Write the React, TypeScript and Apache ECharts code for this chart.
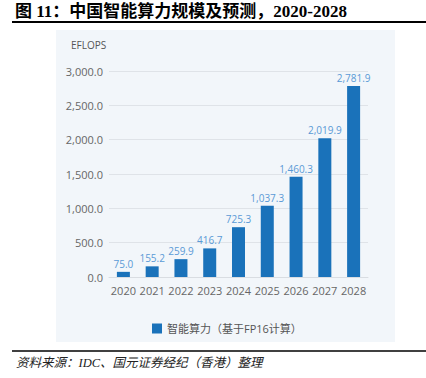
import React, { useEffect, useRef } from "react";
import * as echarts from "echarts";

const years = ["2020", "2021", "2022", "2023", "2024", "2025", "2026", "2027", "2028"];
const computeValues = [75.0, 155.2, 259.9, 416.7, 725.3, 1037.3, 1460.3, 2019.9, 2781.9];
const seriesName = "智能算力（基于FP16计算）";
const titleText = "图 11：中国智能算力规模及预测，2020-2028";
const sourceText = "资料来源：IDC、国元证券经纪（香港）整理";
const unitText = "EFLOPS";

const fmt = (v: number) =>
  v.toLocaleString("en-US", { minimumFractionDigits: 1, maximumFractionDigits: 1 });

export default function App() {
  const ref = useRef<HTMLDivElement>(null);
  useEffect(() => {
    if (!ref.current) return;
    const chart = echarts.init(ref.current, undefined, { renderer: "svg" });
    const sans = "'Open Sans', 'Noto Sans CJK SC', sans-serif";
    chart.setOption({
      animation: false,
      backgroundColor: "#ffffff",
      grid: { left: 109, right: 58, top: 71, bottom: 101 },
      graphic: [
        { type: "rect", z: -10, shape: { x: 56, y: 30, width: 339, height: 312 }, style: { fill: "#f2f6fa" } },
        { type: "line", shape: { x1: 12, y1: 22, x2: 426, y2: 22 }, style: { stroke: "#000", lineWidth: 2 } },
        { type: "line", shape: { x1: 12, y1: 351, x2: 426, y2: 351 }, style: { stroke: "#000", lineWidth: 1.5 } },
        {
          type: "text", x: 15, y: 3,
          style: { text: titleText, fontSize: 17, fontWeight: "bold", fill: "#000", fontFamily: "'Liberation Serif', 'Noto Sans CJK SC', serif" },
        },
        {
          type: "text", x: 16, y: 357,
          style: { text: sourceText, fontSize: 12.5, fontStyle: "italic", fill: "#222", fontFamily: "'Liberation Serif', 'Noto Sans CJK SC', serif" },
        },
        {
          type: "text", x: 71, y: 40,
          style: { text: unitText, fontSize: 10, fill: "#555", fontFamily: sans },
        },
      ],
      legend: {
        left: 147, top: 318, icon: "rect", itemWidth: 10, itemHeight: 10, itemGap: 3,
        textStyle: { fontSize: 11, color: "#555", fontFamily: sans },
        data: [seriesName],
      },
      xAxis: {
        type: "category", data: years,
        axisLine: { show: true, lineStyle: { color: "#d9dde2" } },
        axisTick: { show: false },
        axisLabel: { color: "#666", fontSize: 11, fontFamily: sans, margin: 8, interval: 0 },
      },
      yAxis: {
        type: "value", min: 0, max: 3000, interval: 500,
        axisLine: { show: false }, axisTick: { show: false },
        splitLine: { lineStyle: { color: "#dfe3e8" } },
        axisLabel: { color: "#666", fontSize: 11, fontFamily: sans, margin: 6, formatter: (v: number) => fmt(v) },
      },
      series: [
        {
          name: seriesName, type: "bar", data: computeValues, barWidth: 13,
          itemStyle: { color: "#1a72ba" },
          label: { show: true, position: "top", distance: 3, color: "#5a9ad6", fontSize: 10, fontFamily: sans, formatter: (p: any) => fmt(p.value) },
        },
      ],
    });
    return () => chart.dispose();
  }, []);
  return <div ref={ref} style={{ position: "fixed", left: 0, top: 0, width: 426, height: 378 }} />;
}
